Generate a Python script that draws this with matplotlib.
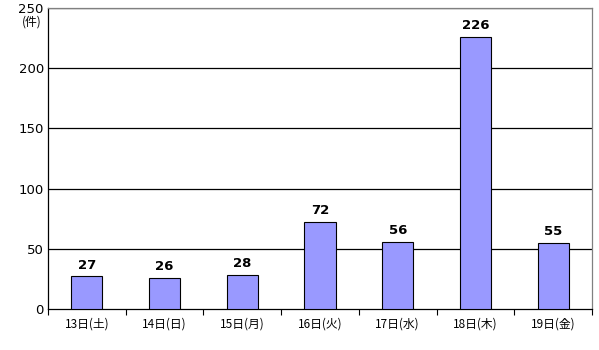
import matplotlib
matplotlib.use("Agg")
import matplotlib.pyplot as plt
import numpy as np

categories = ["13日(土)", "14日(日)", "15日(月)", "16日(火)", "17日(水)", "18日(木)", "19日(金)"]
values = [27, 26, 28, 72, 56, 226, 55]
yticks = [0, 50, 100, 150, 200, 250]

plt.rcParams['font.family'] = ['Noto Sans CJK JP', 'DejaVu Sans']

fig = plt.figure(figsize=(5.99, 3.5), dpi=100)
ax = fig.add_axes([48/599, 1-309/350, (592-48)/599, (309-8)/350])

x = np.arange(len(categories))
ax.bar(x, values, width=0.4, color="#9999FF", edgecolor="black", linewidth=0.8, zorder=3)
for xi, v in zip(x, values):
    ax.text(xi, v + 4, str(v), ha="center", va="bottom", fontsize=9.5, fontweight="bold",
            family=['DejaVu Sans'])

ax.set_xlim(-0.5, len(categories) - 0.5)
ax.set_ylim(0, 250)
ax.set_yticks(yticks)
ax.set_yticklabels([str(t) for t in yticks], fontsize=9.5, family=['DejaVu Sans'])
ax.tick_params(axis="y", length=0, pad=3)
for t in yticks[1:]:
    ax.axhline(t, color="black", linewidth=0.9, zorder=1)

ax.set_xticks(x)
ax.set_xticklabels(categories, fontsize=8.5)
ax.tick_params(axis="x", which="major", length=0, pad=6)
ax.set_xticks(np.arange(-0.5, len(categories) + 0.5, 1), minor=True)
ax.tick_params(axis="x", which="minor", length=4, width=0.8, direction="out")

ax.spines["left"].set_color("black")
ax.spines["bottom"].set_color("black")
ax.spines["top"].set_color("#808080")
ax.spines["right"].set_color("#808080")
for s in ax.spines.values():
    s.set_linewidth(0.9)

fig.text(42/599, 1-22/350, "(件)", fontsize=8.5, ha="right", va="center")

fig.savefig("out.png", dpi=100)
